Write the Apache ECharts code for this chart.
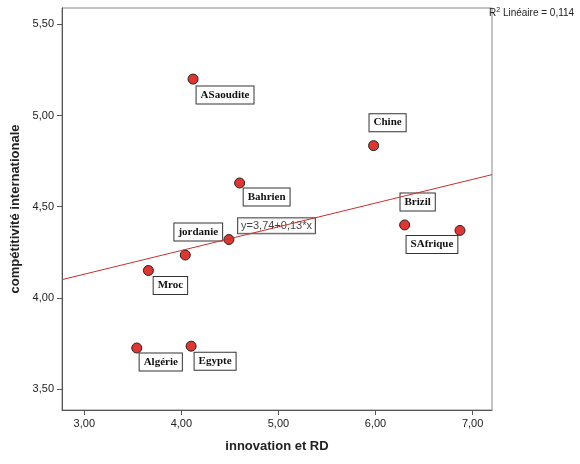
<!DOCTYPE html>
<html><head><meta charset="utf-8">
<script src="https://cdn.jsdelivr.net/npm/echarts@6/dist/echarts.min.js"></script>
<style>html,body{margin:0;padding:0;background:#fff}#c{width:580px;height:464px}</style>
</head><body><div id="c"></div>
<script>
const countries = ['ASaoudite','Chine','Bahrien','Brizil','SAfrique','jordanie','','Mroc','Algérie','Egypte'];
const innovation = [4.12,5.98,4.60,6.30,6.87,4.04,4.49,3.66,3.54,4.10];
const competitivite = [5.20,4.835,4.63,4.40,4.37,4.235,4.32,4.15,3.725,3.735];
const labelOffsets = [[32,16],[14,-23],[27,14],[13,-23],[-28,14],[13,-23],[0,0],[22,15],[24,14],[24,15]];
const xTicks = [3,4,5,6,7];
const yTicks = [3.5,4,4.5,5,5.5];
const fitIntercept = 3.74, fitSlope = 0.13;
const xRange = [2.77, 7.2], yRange = [3.385, 5.59];
const fmt = v => v.toFixed(2).replace('.', ',');
const chart = echarts.init(document.getElementById('c'));
const pts = innovation.map((x,i)=>({
  value:[x, competitivite[i]], name:countries[i],
  label:{show:countries[i]!=='', offset:labelOffsets[i]}
}));
chart.setOption({
  animation:false,
  grid:{left:62,right:88,top:8,bottom:54},
  xAxis:{type:'value',min:xRange[0],max:xRange[1],
    name:'innovation et RD',nameLocation:'middle',nameGap:30,
    nameTextStyle:{fontWeight:'bold',fontSize:13,color:'#222',fontFamily:'Arial, Liberation Sans'},
    axisLine:{lineStyle:{color:'#555'}},
    axisTick:{show:true,customValues:xTicks,lineStyle:{color:'#555'}},
    axisLabel:{customValues:xTicks,formatter:fmt,color:'#222',fontSize:11},
    splitLine:{show:false}},
  yAxis:{type:'value',min:yRange[0],max:yRange[1],
    name:'compétitivité internationale',nameLocation:'middle',nameGap:38,
    nameTextStyle:{fontWeight:'bold',fontSize:13,color:'#222',fontFamily:'Arial, Liberation Sans'},
    axisLine:{show:true,lineStyle:{color:'#555'}},
    axisTick:{show:true,customValues:yTicks,lineStyle:{color:'#555'}},
    axisLabel:{customValues:yTicks,formatter:fmt,color:'#222',fontSize:11},
    splitLine:{show:false}},
  graphic:[
    {type:'rect',shape:{x:62,y:8,width:430,height:402},style:{fill:'none',stroke:'#888',lineWidth:1}},
    {type:'text',left:489,top:7,style:{rich:{a:{fontSize:10,fill:'#222',fontFamily:'Arial, Liberation Sans'},s:{fontSize:7,fill:'#222',verticalAlign:'top',padding:[0,0,6,0]}},text:'{a|R}{s|2}{a| Linéaire = 0,114}'}}
  ],
  series:[
    {type:'line',data:xRange.map(x=>[x,fitIntercept+fitSlope*x]),symbol:'none',
      lineStyle:{color:'#c8302a',width:1},silent:true},
    {type:'scatter',data:[{value:[4.98,4.396],label:{show:true}}],symbolSize:0,
      label:{formatter:'y=3,74+0,13*x',color:'#111',fontSize:11,fontFamily:'Arial, Liberation Sans',
        backgroundColor:'#fff',borderColor:'#222',borderWidth:1,padding:[2,3]}},
    {type:'scatter',data:pts,symbolSize:10,
      itemStyle:{color:'#e03530',borderColor:'#222',borderWidth:1,opacity:1},
      label:{formatter:'{b}',fontFamily:'Liberation Serif, Times New Roman',fontWeight:'bold',fontSize:11,color:'#111',
        backgroundColor:'#fff',borderColor:'#333',borderWidth:1,padding:[3,4],position:'inside'}}
  ]
});
</script></body></html>
